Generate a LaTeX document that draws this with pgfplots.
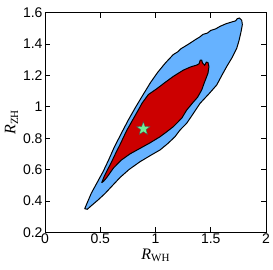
\documentclass[border=0pt]{standalone}
\usepackage{pgfplots}
\pgfplotsset{compat=1.18}
\usepackage{fontspec}
\setmainfont{Liberation Sans}
\newfontfamily\timesf{Liberation Serif}
\definecolor{cblue}{RGB}{102,178,255}
\definecolor{cred}{RGB}{204,0,0}
\definecolor{cgreen}{RGB}{110,240,150}
\pgfdeclareplotmark{fstar}{%
  \pgfpathmoveto{\pgfpointpolar{90}{\pgfplotmarksize}}%
  \pgfpathlineto{\pgfpointpolar{126}{0.42\pgfplotmarksize}}%
  \pgfpathlineto{\pgfpointpolar{162}{\pgfplotmarksize}}%
  \pgfpathlineto{\pgfpointpolar{198}{0.42\pgfplotmarksize}}%
  \pgfpathlineto{\pgfpointpolar{234}{\pgfplotmarksize}}%
  \pgfpathlineto{\pgfpointpolar{270}{0.42\pgfplotmarksize}}%
  \pgfpathlineto{\pgfpointpolar{306}{\pgfplotmarksize}}%
  \pgfpathlineto{\pgfpointpolar{342}{0.42\pgfplotmarksize}}%
  \pgfpathlineto{\pgfpointpolar{18}{\pgfplotmarksize}}%
  \pgfpathlineto{\pgfpointpolar{54}{0.42\pgfplotmarksize}}%
  \pgfpathclose
  \pgfusepathqfillstroke}
\begin{document}
\begin{tikzpicture}
\begin{axis}[
  at={(0,0)}, anchor=south west,
  scale only axis, width=221pt, height=219.6pt,
  xmin=0, xmax=2, ymin=0.2, ymax=1.6,
  xtick={0,0.5,1,1.5,2},
  ytick={0.2,0.4,0.6,0.8,1,1.2,1.4,1.6},
  tick align=inside, major tick length=5pt,
  axis line style={line width=0.9pt},
  every tick/.style={black, line width=0.8pt},
  /pgf/number format/assume math mode=true,
  tick label style={font=\fontsize{14}{14}\selectfont},
  yticklabel style={xshift=1pt},
  xticklabel style={yshift=2pt},
  xlabel={{\timesf\fontsize{16}{16}\selectfont\itshape R}\raisebox{-0.5ex}{\timesf\fontsize{11}{11}\selectfont WH}},
  ylabel={{\timesf\fontsize{16}{16}\selectfont\itshape R}\raisebox{-0.5ex}{\timesf\fontsize{11}{11}\selectfont ZH}},
  xlabel style={yshift=2pt},
  ylabel style={yshift=-2pt},
]
\addplot[fill=cblue, draw=black, line width=1pt] coordinates {
(0.359,0.350) (0.419,0.449) (0.470,0.515) (0.525,0.586) (0.575,0.660)
(0.625,0.740) (0.690,0.830) (0.754,0.916) (0.820,0.998) (0.890,1.080)
(0.955,1.155) (1.020,1.220) (1.090,1.280) (1.161,1.333) (1.200,1.350)
(1.230,1.370) (1.265,1.385) (1.300,1.400) (1.360,1.428) (1.400,1.445)
(1.430,1.462) (1.470,1.470) (1.500,1.487) (1.545,1.497) (1.584,1.513)
(1.640,1.530) (1.700,1.543) (1.725,1.548) (1.740,1.562) (1.760,1.566)
(1.780,1.552) (1.786,1.525) (1.780,1.500) (1.771,1.468) (1.755,1.420)
(1.735,1.373) (1.690,1.310) (1.644,1.256) (1.600,1.200) (1.554,1.139)
(1.480,1.080) (1.403,1.022) (1.340,0.955) (1.282,0.895) (1.222,0.852)
(1.176,0.809) (1.110,0.765) (1.041,0.725) (0.950,0.688) (0.860,0.650)
(0.760,0.600) (0.680,0.550) (0.600,0.490) (0.540,0.445) (0.480,0.406)
(0.420,0.370) (0.383,0.347) (0.359,0.350)
};
\addplot[fill=cred, draw=black, line width=1pt] coordinates {
(0.513,0.516) (0.535,0.555) (0.570,0.605) (0.600,0.645) (0.640,0.705)
(0.676,0.755) (0.740,0.850) (0.830,0.962) (0.880,1.025) (0.935,1.078)
(1.011,1.115) (1.080,1.152) (1.161,1.194) (1.252,1.234) (1.320,1.255)
(1.373,1.266) (1.395,1.275) (1.405,1.298) (1.418,1.298) (1.425,1.280)
(1.445,1.265) (1.460,1.285) (1.475,1.282) (1.484,1.256) (1.475,1.215)
(1.463,1.192) (1.440,1.150) (1.418,1.107) (1.380,1.060) (1.342,1.030)
(1.282,0.979) (1.240,0.930) (1.206,0.905) (1.161,0.873) (1.100,0.840)
(1.041,0.809) (0.950,0.770) (0.860,0.735) (0.770,0.700) (0.690,0.660)
(0.620,0.610) (0.560,0.550) (0.530,0.525) (0.513,0.516)
};
\addplot[only marks, mark=fstar, mark size=7pt, mark options={fill=cgreen, draw=black!70, line width=0.4pt}] coordinates {(0.89,0.86)};
\end{axis}
\pgfresetboundingbox
\useasboundingbox (-45pt,-37.7pt) rectangle (228pt,232.3pt);
\end{tikzpicture}
\end{document}
